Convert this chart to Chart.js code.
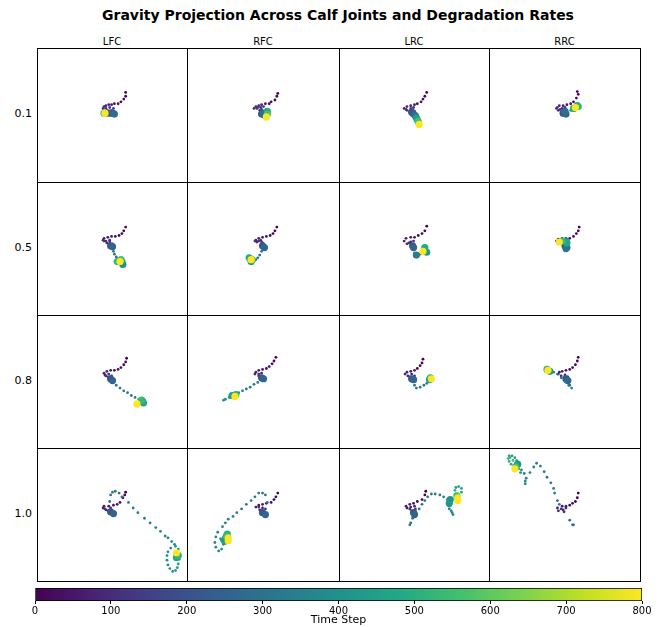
<!DOCTYPE html>
<html>
<head>
<meta charset="utf-8">
<script src="https://cdn.jsdelivr.net/npm/chart.js@4.4.0/dist/chart.umd.min.js"></script>
<style>
  body { margin: 0; width: 662px; height: 627px; background: #fff; overflow: hidden; position: relative; font-family: "DejaVu Sans", sans-serif; }
  .cell { position: absolute; box-sizing: border-box; border: 1px solid #000; }
  .cell canvas { display: block; }
  #title { position: absolute; top: 6px; left: 0; width: 676px; text-align: center; font-weight: bold; font-size: 14px; line-height: 18px; }
  .col { position: absolute; top: 36px; font-size: 10px; line-height: 12px; text-align: center; }
  .row { position: absolute; left: 0; width: 32px; text-align: right; font-size: 11px; line-height: 14px; }
  #cbar { position: absolute; left: 20px; top: 584px; }
</style>
</head>
<body>
<div id="title">Gravity Projection Across Calf Joints and Degradation Rates</div>
<canvas id="cbar" width="642" height="43"></canvas>
<script>
// Axes de la grille
const joints = ['LFC', 'RFC', 'LRC', 'RRC'];
const rates = ['0.1', '0.5', '0.8', '1.0'];
const timeTicks = [0, 100, 200, 300, 400, 500, 600, 700, 800];

// Trajectoires [x, y, pas de temps] (y vers le bas), path = points isolés, dwell = arrêts
const lfc01Path = [[89,42,0],[89,46,10],[87,49,20],[84,52,30],[81,54,40],[77,54,50],[74,55,60],[71,55,70],[68,56,80],[66,57,90],[65,59,100],[68,59,110],[72,58,120],[76,59,130],[74,61,140],[69,61,150],[66,62,160],[71,62,170],[76,62,180],[78,63,190]];
const lfc01Dwell = [[71,64,220],[75,64,250],[77,65,280],[66,64,540],[67,64,800]];
const rfc01Path = [[90,43,0],[89,46,10],[87,50,20],[83,52,30],[81,54,40],[77,54,50],[73,55,60],[70,56,70],[67,57,80],[65,59,90],[68,59,100],[72,58,110],[75,57,120],[78,60,130],[73,60,140],[69,58,150],[71,61,160],[74,62,170]];
const rfc01Dwell = [[73,65,220],[76,66,260],[75,64,290],[79,62,480],[79,65,560],[78,68,800]];
const lrc01Path = [[88,42,0],[86,46,10],[84,49,20],[82,52,30],[78,54,40],[75,55,50],[71,56,60],[67,57,70],[64,59,80],[67,61,90],[71,59,100],[74,58,110],[70,62,120],[66,60,130],[72,60,140],[75,62,150]];
const lrc01Dwell = [[72,63,200],[74,65,250],[76,67,300],[77,69,420],[78,71,480],[79,73,560],[80,76,800]];
const rrc01Path = [[88,41,0],[89,44,10],[87,48,20],[84,52,30],[81,54,40],[77,55,50],[73,56,60],[69,56,70],[66,59,80],[68,61,90],[72,59,100],[75,58,110],[70,60,120],[67,58,130],[74,61,140],[81,61,330],[84,59,350]];
const rrc01Dwell = [[73,64,220],[76,65,260],[75,62,290],[88,56,480],[84,59,500],[89,57,520],[86,58,800]];

const lfc05Path = [[89,43,0],[87,47,10],[85,50,20],[82,52,30],[78,53,40],[74,53,50],[70,54,60],[66,55,70],[65,57,80],[68,58,90],[72,57,100],[69,60,110],[66,58,120],[72,59,130],[75,61,140],[76,69,300],[77,72,310],[79,75,320],[81,77,330],[84,79,340]];
const lfc05Dwell = [[73,63,200],[75,64,260],[86,83,400],[85,80,440],[80,80,520],[84,78,560],[83,80,800]];
const rfc05Path = [[89,43,0],[87,47,10],[85,50,20],[82,52,30],[78,53,40],[74,54,50],[70,55,60],[67,57,70],[68,59,80],[72,57,90],[74,60,100],[70,58,110],[66,58,120],[73,59,130],[73,69,300],[71,73,310],[69,76,320],[67,78,330],[65,80,340],[63,82,350]];
const rfc05Dwell = [[74,63,200],[76,65,260],[62,80,400],[60,76,480],[63,78,560],[62,78,800]];
const lrc05Path = [[88,42,0],[86,47,10],[83,50,20],[79,52,30],[75,54,40],[71,54,50],[66,55,60],[64,58,70],[67,61,80],[71,59,90],[74,58,100],[69,60,110],[73,62,130],[75,71,300],[78,74,310],[81,72,320]];
const lrc05Dwell = [[73,63,200],[74,65,260],[77,73,330],[88,70,420],[86,65,480],[84,69,800]];
const rrc05Path = [[90,43,0],[89,47,10],[87,50,20],[84,53,30],[80,55,40],[76,55,50],[72,55,60],[68,56,70],[66,58,80],[69,60,90],[73,59,100],[76,61,110],[72,61,120],[76,60,130]];
const rrc05Dwell = [[75,63,200],[77,65,260],[76,66,300],[76,58,420],[77,60,480],[72,58,540],[69,59,800]];

const lfc08Path = [[90,41,0],[89,45,10],[87,48,20],[84,51,30],[81,53,40],[77,54,50],[73,54,60],[69,55,70],[66,57,80],[67,59,90],[71,58,100],[74,60,110],[70,61,120],[68,60,130],[73,61,140],[79,70,300],[83,73,310],[87,76,320],[91,78,330],[95,81,340],[99,83,350],[103,85,360]];
const lfc08Dwell = [[73,63,200],[75,65,260],[107,87,420],[108,89,480],[106,86,540],[101,90,800]];
const rfc08Path = [[88,40,0],[86,44,10],[84,47,20],[81,50,30],[78,52,40],[74,53,50],[70,54,60],[67,56,70],[66,58,80],[70,58,90],[73,57,100],[70,60,110],[73,61,130],[69,67,300],[65,69,310],[61,72,320],[57,74,330],[53,76,340],[49,78,350],[43,81,370],[39,83,380],[35,85,390],[33,86,400]];
const rfc08Dwell = [[73,62,200],[75,63,260],[42,81,440],[46,80,500],[45,82,800]];
const lrc08Path = [[84,42,0],[83,46,10],[81,49,20],[78,52,30],[75,54,40],[71,55,50],[67,56,60],[65,58,70],[68,60,80],[72,58,90],[75,60,100],[70,61,110],[73,62,130],[75,70,300],[77,73,310],[81,72,320],[85,70,330],[88,68,340],[91,66,350]];
const lrc08Dwell = [[72,63,200],[74,64,260],[91,64,440],[92,62,500],[93,63,800]];
const rrc08Path = [[89,40,0],[88,44,10],[86,48,20],[83,51,30],[80,53,40],[76,54,50],[72,55,60],[69,56,70],[68,58,80],[71,60,90],[75,59,100],[78,61,110],[74,62,120],[80,70,300],[82,73,310],[79,70,320],[75,66,330],[71,62,340],[67,58,350],[63,56,360]];
const rrc08Dwell = [[76,63,200],[78,65,260],[59,55,420],[56,53,500],[57,54,800]];

const lfc10Path = [[89,42,0],[88,45,10],[86,48,20],[83,53,30],[80,55,40],[76,56,50],[71,57,60],[66,57,70],[65,59,80],[68,61,90],[73,59,100],[70,62,110],[67,60,120],[74,62,130],
  [72,52,290],[73,45,300],[75,42,305],[78,41,310],[82,43,315],[85,47,320],[92,53,325],[97,59,330],[102,64,335],[109,70,340],[115,75,345],[121,80,350],[126,84,355],[131,89,360],[134,91,365],[138,95,370],[141,98,375],
  [137,102,380],[134,106,385],[133,110,390],[133,115,395],[134,120,400],[136,124,405],[139,127,410],[142,126,415],[144,123,420],[145,119,425],[146,114,430],[146,108,435],[145,103,440],[142,100,445]];
const lfc10Dwell = [[73,63,200],[76,65,260],[143,112,480],[145,110,520],[143,107,800]];
const rfc10Path = [[90,43,0],[88,47,10],[86,50,20],[83,53,30],[78,54,40],[74,55,50],[70,56,60],[67,58,70],[71,61,80],[74,59,90],[70,58,100],[73,62,110],[77,60,120],[72,63,130],
  [79,53,290],[77,45,300],[74,43,305],[70,43,310],[66,47,315],[62,51,320],[57,55,325],[52,60,330],[47,64,335],[43,68,340],[38,71,345],[35,75,350],[32,79,355],[27,85,360],[25,90,365],[24,96,370],[25,101,375],[28,105,380],[31,103,385],[33,98,390],[31,94,395],[30,92,400],[33,90,405],[36,93,410],[34,95,415],[35,97,420]];
const rfc10Dwell = [[74,64,200],[77,66,260],[34,94,440],[37,87,500],[36,89,540],[38,91,790],[38,94,800]];
const lrc10Path = [[87,41,0],[86,45,10],[83,50,20],[78,52,30],[74,54,40],[70,55,50],[66,57,60],[67,59,70],[71,58,80],[75,57,90],[70,60,100],[72,62,110],[76,60,120],
  [73,70,280],[71,75,285],[70,77,290],[80,60,300],[83,55,305],[86,51,310],[89,47,315],[93,44,320],[97,44,325],[102,45,330],[106,47,335],[110,50,340],[112,55,345],[112,60,350],[115,64,355],[116,66,360],[114,62,365],[112,57,370],
  [119,37,440],[122,36,450],[125,38,460],[125,42,470],[122,45,480],[119,44,490],[118,40,500]];
const lrc10Dwell = [[74,64,200],[75,66,260],[113,50,400],[112,54,420],[120,46,560],[121,48,790],[121,51,800]];
const rrc10Path = [[89,43,0],[88,48,10],[86,52,20],[83,54,30],[80,56,40],[76,57,50],[72,57,60],[67,59,70],[68,62,80],[73,61,90],[76,59,100],[71,60,110],[74,63,120],
  [80,72,280],[83,77,285],[84,77,290],[69,55,300],[67,51,305],[64,43,310],[63,38,315],[60,32,320],[56,26,325],[53,20,330],[49,14,335],[45,11,340],[42,15,345],[38,21,350],[34,27,355],[33,33,360],[33,30,365],[32,22,370],[29,18,375],[27,13,380],[26,17,390],[28,21,400],
  [16,3,440],[19,3,450],[22,5,460],[24,8,470],[23,11,480],[21,13,490],[18,12,500],[16,9,510],[15,6,520],[17,5,530],[20,8,540]];
const rrc10Dwell = [[25,12,420],[23,15,560],[22,17,800]];

const paths = {
  LFC: [lfc01Path, lfc05Path, lfc08Path, lfc10Path],
  RFC: [rfc01Path, rfc05Path, rfc08Path, rfc10Path],
  LRC: [lrc01Path, lrc05Path, lrc08Path, lrc10Path],
  RRC: [rrc01Path, rrc05Path, rrc08Path, rrc10Path]
};
const dwells = {
  LFC: [lfc01Dwell, lfc05Dwell, lfc08Dwell, lfc10Dwell],
  RFC: [rfc01Dwell, rfc05Dwell, rfc08Dwell, rfc10Dwell],
  LRC: [lrc01Dwell, lrc05Dwell, lrc08Dwell, lrc10Dwell],
  RRC: [rrc01Dwell, rrc05Dwell, rrc08Dwell, rrc10Dwell]
};

// Mise en page (pixels)
const colEdges = [37, 187, 339, 489, 640];
const rowEdges = [48, 182, 315, 448, 581];
const tMax = timeTicks[timeTicks.length - 1];

// Palette viridis
const viridisStops = ['#440154', '#482475', '#414487', '#355f8d', '#2a788e', '#21918c', '#22a884', '#44bf70', '#7ad151', '#bddf26', '#fde725'];
function hexToRgb(h) {
  return [parseInt(h.slice(1, 3), 16), parseInt(h.slice(3, 5), 16), parseInt(h.slice(5, 7), 16)];
}
function viridis(f) {
  f = Math.min(1, Math.max(0, f));
  const s = f * 10;
  const i = Math.min(9, Math.floor(s));
  const u = s - i;
  const a = hexToRgb(viridisStops[i]);
  const b = hexToRgb(viridisStops[i + 1]);
  const c = a.map((v, k) => Math.round(v + (b[k] - v) * u));
  return `rgb(${c[0]},${c[1]},${c[2]})`;
}

// Fusionne les points et les trie par temps (les derniers dessinés au-dessus)
function buildPoints(path, dwell) {
  const pts = path.map(p => ({ x: p[0], y: p[1], t: p[2], big: false }))
    .concat(dwell.map(p => ({ x: p[0], y: p[1], t: p[2], big: true })));
  pts.sort((a, b) => a.t - b.t);
  return pts;
}

// Titres des colonnes et lignes
joints.forEach((j, c) => {
  const d = document.createElement('div');
  d.className = 'col';
  d.textContent = j;
  d.style.left = colEdges[c] + 'px';
  d.style.width = (colEdges[c + 1] - colEdges[c]) + 'px';
  document.body.appendChild(d);
});
rates.forEach((rate, r) => {
  const d = document.createElement('div');
  d.className = 'row';
  d.textContent = rate;
  d.style.top = ((rowEdges[r] + rowEdges[r + 1]) / 2 - 8) + 'px';
  document.body.appendChild(d);
});

// Une petite figure par articulation / taux
rates.forEach((rate, r) => {
  joints.forEach((joint, c) => {
    const w = colEdges[c + 1] - colEdges[c] + 1;
    const h = rowEdges[r + 1] - rowEdges[r] + 1;
    const div = document.createElement('div');
    div.className = 'cell';
    div.style.left = colEdges[c] + 'px';
    div.style.top = rowEdges[r] + 'px';
    div.style.width = w + 'px';
    div.style.height = h + 'px';
    const cv = document.createElement('canvas');
    cv.width = w - 2;
    cv.height = h - 2;
    div.appendChild(cv);
    document.body.appendChild(div);

    new Chart(cv, {
      type: 'scatter',
      data: {
        datasets: [{
          data: buildPoints(paths[joint][r], dwells[joint][r]),
          pointRadius: ctx => (ctx.raw && ctx.raw.big ? 3.6 : 1.4),
          pointBackgroundColor: ctx => viridis(ctx.raw ? ctx.raw.t / tMax : 0),
          pointBorderWidth: 0
        }]
      },
      options: {
        responsive: false,
        animation: false,
        events: [],
        layout: { padding: 0 },
        plugins: { legend: { display: false }, tooltip: { enabled: false } },
        scales: {
          x: { type: 'linear', min: 0, max: 150, display: false },
          y: { type: 'linear', min: 0, max: 133, reverse: true, display: false }
        }
      }
    });
  });
});

// Barre de couleur
new Chart(document.getElementById('cbar'), {
  type: 'bar',
  data: {
    labels: [''],
    datasets: [{
      data: [[timeTicks[0], tMax]],
      backgroundColor: ctx => {
        const area = ctx.chart.chartArea;
        if (!area) return '#21918c';
        const g = ctx.chart.ctx.createLinearGradient(area.left, 0, area.right, 0);
        viridisStops.forEach((col, i) => g.addColorStop(i / 10, col));
        return g;
      },
      borderColor: '#000',
      borderWidth: 1,
      borderSkipped: false,
      categoryPercentage: 1,
      barPercentage: 1
    }]
  },
  options: {
    indexAxis: 'y',
    responsive: false,
    animation: false,
    events: [],
    layout: { padding: { left: 15, right: 20, top: 4, bottom: 0 } },
    plugins: { legend: { display: false }, tooltip: { enabled: false } },
    scales: {
      x: {
        type: 'linear',
        min: timeTicks[0],
        max: tMax,
        afterBuildTicks: axis => { axis.ticks = timeTicks.map(v => ({ value: v })); },
        afterFit: axis => { axis.height = 26; },
        grid: { display: true, drawOnChartArea: false, drawTicks: true, tickLength: 3, color: '#000' },
        border: { display: false },
        ticks: { color: '#000', padding: 1, maxRotation: 0, font: { family: 'DejaVu Sans', size: 10 } },
        title: { display: true, text: 'Time Step', color: '#000', padding: 0, font: { family: 'DejaVu Sans', size: 11 } }
      },
      y: { display: false }
    }
  }
});
</script>
</body>
</html>
